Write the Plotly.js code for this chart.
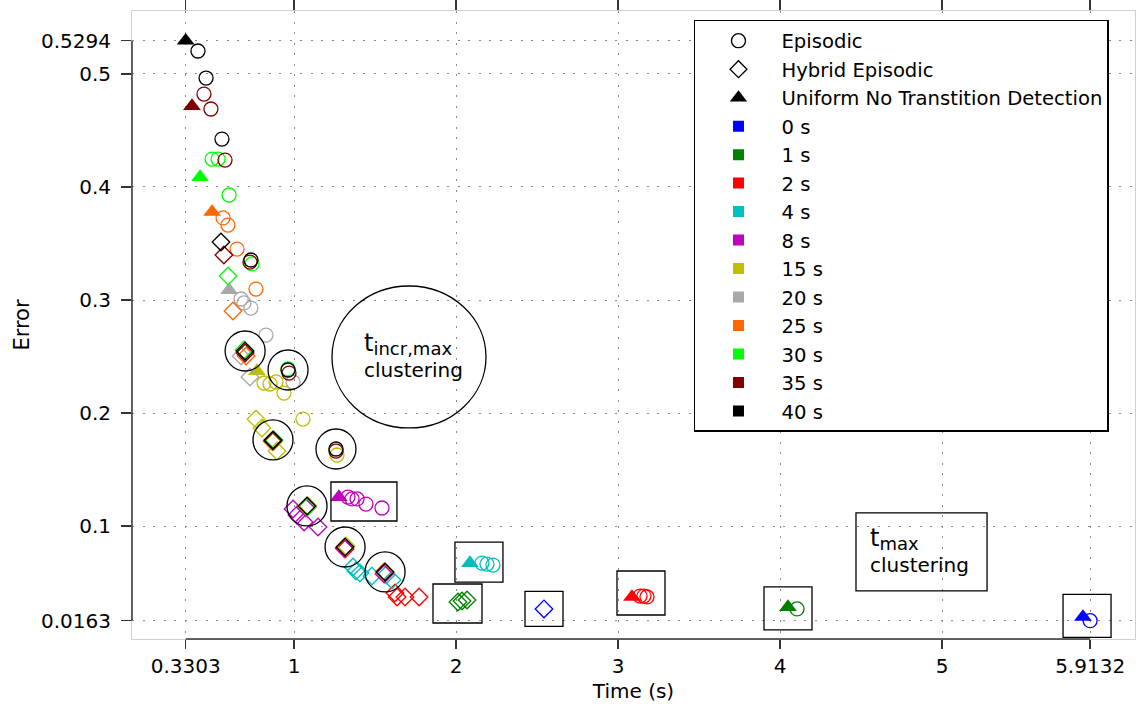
<!DOCTYPE html>
<html><head><meta charset="utf-8">
<script src="https://cdn.plot.ly/plotly-3.0.1.min.js"></script>
<style>html,body{margin:0;padding:0;background:#fff}</style>
</head><body><div id="chart" style="width:1138px;height:713px"></div>
<script>
// ---------- DATA ----------
const intervals = ['0 s','1 s','2 s','4 s','8 s','15 s','20 s','25 s','30 s','35 s','40 s'];
const xTickVals = [0.3303, 1, 2, 3, 4, 5, 5.9132];
const xTickText = ['0.3303', '1', '2', '3', '4', '5', '5.9132'];
const yTickVals = [0.0163, 0.1, 0.2, 0.3, 0.4, 0.5, 0.5294];
const yTickText = ['0.0163', '0.1', '0.2', '0.3', '0.4', '0.5', '0.5294'];

// Episodic (time s, error)
const epiT0 = [5.9132], epiE0 = [0.0163];
const epiT1 = [4.104], epiE1 = [0.0267];
const epiT2 = [3.135, 3.159, 3.178], epiE2 = [0.0381, 0.0381, 0.0373];
const epiT4 = [2.159, 2.190, 2.227], epiE4 = [0.0673, 0.0664, 0.0655];
const epiT8 = [1.332, 1.357, 1.388, 1.443, 1.542], epiE8 = [0.1257, 0.1240, 0.1240, 0.1195, 0.1160];
const epiT15 = [0.814, 0.851, 0.888, 0.937, 1.054, 1.264], epiE15 = [0.2266, 0.2257, 0.2275, 0.2177, 0.1947, 0.1629];
const epiT20 = [0.672, 0.690, 0.733, 0.826, 0.993], epiE20 = [0.3009, 0.2974, 0.2929, 0.2690, 0.2275];
const epiT25 = [0.561, 0.591, 0.647, 0.764], epiE25 = [0.3726, 0.3663, 0.3451, 0.3097];
const epiT30 = [0.493, 0.530, 0.598, 0.740, 0.962], epiE30 = [0.4247, 0.4247, 0.3929, 0.3319, 0.2390];
const epiT35 = [0.443, 0.486, 0.573, 0.727, 0.968, 1.258], epiE35 = [0.4822, 0.4690, 0.4238, 0.3336, 0.2354, 0.1664];
const epiT40 = [0.406, 0.456, 0.554, 0.733, 0.962, 1.258], epiE40 = [0.5203, 0.4964, 0.4424, 0.3354, 0.2381, 0.1682];

// Hybrid Episodic
const hybT0 = [2.542], hybE0 = [0.0267];
const hybT1 = [2.011, 2.036, 2.067], hybE1 = [0.0328, 0.0337, 0.0346];
const hybT2 = [1.079, 1.314, 1.561, 1.622, 1.635, 1.684, 1.771], hybE2 = [0.1169, 0.0797, 0.0585, 0.0408, 0.0373, 0.0373, 0.0373];
const hybT4 = [1.363, 1.381, 1.406, 1.480, 1.567, 1.604], hybE4 = [0.0638, 0.0603, 0.0585, 0.0558, 0.0567, 0.0523];
const hybT8 = [0.993, 1.017, 1.061, 1.073, 1.147, 1.308, 1.555], hybE8 = [0.1151, 0.1098, 0.1036, 0.1160, 0.0992, 0.0806, 0.0576];
const hybT15 = [0.764, 0.801, 0.869, 0.894, 1.085, 1.320], hybE15 = [0.1947, 0.1868, 0.1744, 0.1664, 0.1178, 0.0824];
const hybT20 = [0.672, 0.727], hybE20 = [0.2505, 0.2319];
const hybT25 = [0.622, 0.703, 0.863, 1.555], hybE25 = [0.2903, 0.2505, 0.1753, 0.0594];
const hybT30 = [0.592, 0.690, 0.875, 1.079], hybE30 = [0.3212, 0.2558, 0.1762, 0.1169];
const hybT35 = [0.566, 0.697, 0.869], hybE35 = [0.3398, 0.2531, 0.1753];
const hybT40 = [0.548, 0.697, 0.869, 1.079, 1.314, 1.561], hybE40 = [0.3513, 0.2549, 0.1762, 0.1178, 0.0815, 0.0594];

// Uniform No Transtition Detection
const uniT0 = [5.869], uniE0 = [0.0196];
const uniT1 = [4.048], uniE1 = [0.0284];
const uniT2 = [3.085], uniE2 = [0.0373];
const uniT4 = [2.085], uniE4 = [0.0673];
const uniT8 = [1.276], uniE8 = [0.1257];
const uniT15 = [0.770], uniE15 = [0.2372];
const uniT20 = [0.598], uniE20 = [0.3088];
const uniT25 = [0.493], uniE25 = [0.3779];
const uniT30 = [0.419], uniE30 = [0.4088];
const uniT35 = [0.369], uniE35 = [0.4716];
const uniT40 = [0.3303], uniE40 = [0.5294];

// ---------- STYLE ----------
const colors = ['#0000FF','#008000','#FF0000','#00BFBF','#BF00BF','#BFBF00','#A8A8A8','#FF6600','#00FF00','#800000','#000000'];
const FONT = 'DejaVu Sans';
const epi = [[epiT0,epiE0],[epiT1,epiE1],[epiT2,epiE2],[epiT4,epiE4],[epiT8,epiE8],[epiT15,epiE15],[epiT20,epiE20],[epiT25,epiE25],[epiT30,epiE30],[epiT35,epiE35],[epiT40,epiE40]];
const hyb = [[hybT0,hybE0],[hybT1,hybE1],[hybT2,hybE2],[hybT4,hybE4],[hybT8,hybE8],[hybT15,hybE15],[hybT20,hybE20],[hybT25,hybE25],[hybT30,hybE30],[hybT35,hybE35],[hybT40,hybE40]];
const uni = [[uniT0,uniE0],[uniT1,uniE1],[uniT2,uniE2],[uniT4,uniE4],[uniT8,uniE8],[uniT15,uniE15],[uniT20,uniE20],[uniT25,uniE25],[uniT30,uniE30],[uniT35,uniE35],[uniT40,uniE40]];

const traces = [];
// legend entries
traces.push({name:'Episodic', x:[null], y:[null], mode:'markers', marker:{symbol:'circle-open', size:14, color:'#000', line:{width:1.3, color:'#000'}}});
traces.push({name:'Hybrid Episodic', x:[null], y:[null], mode:'markers', marker:{symbol:'diamond-open', size:13, color:'#000', line:{width:1.3, color:'#000'}}});
traces.push({name:'Uniform No Transtition Detection', x:[null], y:[null], mode:'markers', marker:{symbol:'triangle-up', size:15, color:'#000'}});
intervals.forEach((lab,i)=>{
  traces.push({name:lab, x:[null], y:[null], mode:'markers', marker:{symbol:'square', size:11, color:colors[i]}});
});
// data
intervals.forEach((lab,i)=>{
  traces.push({x:epi[i][0], y:epi[i][1], mode:'markers', showlegend:false, hoverinfo:'skip',
    marker:{symbol:'circle-open', size:14, color:colors[i], line:{width:1.3, color:colors[i]}}});
  traces.push({x:hyb[i][0], y:hyb[i][1], mode:'markers', showlegend:false, hoverinfo:'skip',
    marker:{symbol:'diamond-open', size:13.5, color:colors[i], line:{width:1.3, color:colors[i]}}});
  traces.push({x:uni[i][0], y:uni[i][1], mode:'markers', showlegend:false, hoverinfo:'skip',
    marker:{symbol:'triangle-up', size:15.5, color:colors[i], line:{width:0}}});
});
// top ticks axis carrier
traces.push({x:[null], y:[null], xaxis:'x2', showlegend:false, mode:'markers'});

// ---------- GEOMETRY ----------
const XR = [-0.0012, 6.1903], YR = [0.0001, 0.5557];
const shapes = [];
// dark axis lines between extreme ticks
shapes.push({type:'line', xref:'x', yref:'paper', x0:xTickVals[0], x1:xTickVals[xTickVals.length-1], y0:0, y1:0, line:{color:'#333', width:1.5}});
shapes.push({type:'line', xref:'paper', yref:'y', x0:0, x1:0, y0:yTickVals[0], y1:yTickVals[yTickVals.length-1], line:{color:'#333', width:1.5}});

// t_incr,max clustering circles around black markers
const circled = [[hybT40,hybE40,1],[hybT40,hybE40,2],[hybT40,hybE40,3],[hybT40,hybE40,4],[hybT40,hybE40,5],[epiT40,epiE40,4],[epiT40,epiE40,5]];
circled.forEach(([T,E,k])=>{
  shapes.push({type:'circle', xref:'x', yref:'y', xsizemode:'pixel', ysizemode:'pixel', xanchor:T[k], yanchor:E[k],
    x0:-20, x1:20, y0:-20, y1:20, line:{color:'#000', width:1.3}});
});
// t_max clustering boxes (w,h px; dx,dy screen px offset from group centre)
const boxes = [
  {g:[epi[4],uni[4]], w:66, h:39, dx:3.5, dy:-1},
  {g:[epi[3],uni[3]], w:48, h:40, dx:-2.5, dy:-2},
  {g:[hyb[1]], w:49, h:39, dx:-5, dy:2.5},
  {g:[hyb[0]], w:38, h:35, dx:0, dy:0},
  {g:[epi[2],uni[2]], w:48, h:44, dx:1.5, dy:-3.5},
  {g:[epi[1],uni[1]], w:48, h:43, dx:-4.5, dy:0.5},
  {g:[epi[0],uni[0]], w:48, h:43, dx:0.5, dy:-3}
];
boxes.forEach(b=>{
  const ts = [].concat(...b.g.map(s=>s[0])), es = [].concat(...b.g.map(s=>s[1]));
  const cx = (Math.min(...ts)+Math.max(...ts))/2, cy = (Math.min(...es)+Math.max(...es))/2;
  shapes.push({type:'rect', xref:'x', yref:'y', xsizemode:'pixel', ysizemode:'pixel', xanchor:cx, yanchor:cy,
    x0:-b.w/2+b.dx, x1:b.w/2+b.dx, y0:b.h/2-b.dy, y1:-b.h/2-b.dy, line:{color:'#000', width:1.3}});
});
// label shapes
shapes.push({type:'circle', xref:'x', yref:'y', x0:1.2334, x1:2.184, y0:0.1868, y1:0.3124, line:{color:'#000', width:1.3}});
shapes.push({type:'rect', xref:'x', yref:'y', x0:4.468, x1:5.277, y0:0.0426, y1:0.1116, line:{color:'#000', width:1.3}});

const annotations = [
  {xref:'x', yref:'y', x:1.4186, y:0.2513, xanchor:'left', yanchor:'middle', align:'left', showarrow:false,
   text:'<span style="font-size:24px">t</span><sub><span style="font-size:18px">incr,max</span></sub><br>clustering', font:{family:FONT, size:20, color:'#000'}},
  {xref:'x', yref:'y', x:4.542, y:0.0780, xanchor:'left', yanchor:'middle', align:'left', showarrow:false,
   text:'<span style="font-size:24px">t</span><sub><span style="font-size:18px">max</span></sub><br>clustering', font:{family:FONT, size:20, color:'#000'}}
];

const gridStyle = {showgrid:true, gridcolor:'#8a8a8a', gridwidth:1, griddash:'2px,8.5px'};
const layout = {
  width:1138, height:713,
  margin:{l:132, r:3, t:11, b:74},
  paper_bgcolor:'#fff', plot_bgcolor:'#fff',
  font:{family:FONT, size:20, color:'#000'},
  showlegend:true,
  legend:{x:0.5603, y:0.9857, xanchor:'left', yanchor:'top', bgcolor:'#fff', bordercolor:'#000', borderwidth:1.5,
    font:{family:FONT, size:19.6, color:'#000'}, itemwidth:76, traceorder:'normal'},
  xaxis:Object.assign({range:XR, tickmode:'array', tickvals:xTickVals, ticktext:xTickText, ticks:'outside', ticklen:9,
    tickcolor:'#333', tickwidth:1.5, showline:true, mirror:true, linecolor:'#d0d0d0', linewidth:1, zeroline:false,
    tickfont:{family:FONT, size:20, color:'#000'}, title:{text:'Time (s)', font:{family:FONT, size:20, color:'#000'}, standoff:6}}, gridStyle),
  xaxis2:{overlaying:'x', matches:'x', side:'top', tickmode:'array', tickvals:xTickVals, ticks:'outside', ticklen:10,
    tickcolor:'#333', tickwidth:1.5, showticklabels:false, showgrid:false, zeroline:false, showline:false},
  yaxis:Object.assign({range:YR, tickmode:'array', tickvals:yTickVals, ticktext:yTickText, ticks:'outside', ticklen:10,
    tickcolor:'#333', tickwidth:1.5, showline:true, mirror:true, linecolor:'#d0d0d0', linewidth:1, zeroline:false,
    ticklabelstandoff:6,
    tickfont:{family:FONT, size:20, color:'#000'}, title:{text:'Error', font:{family:FONT, size:21, color:'#000'}, standoff:5}}, gridStyle),
  shapes:shapes, annotations:annotations
};
Plotly.newPlot('chart', traces, layout, {displayModeBar:false, staticPlot:true});
</script></body></html>
